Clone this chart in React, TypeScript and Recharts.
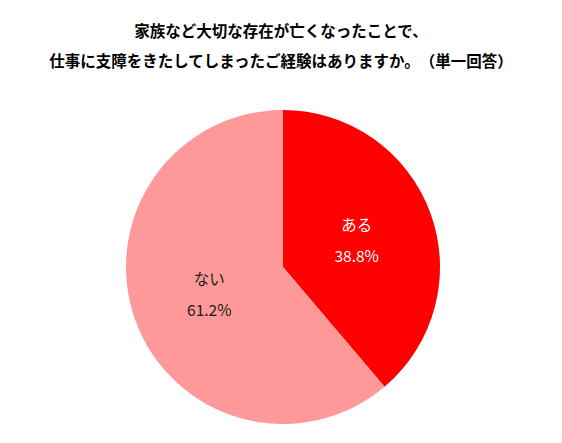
import { Cell, Pie, PieChart } from "recharts";

// Survey answer split.
const categories = ["ある", "ない"];
const shares = [38.8, 61.2];
const sliceColors = ["#FF0000", "#FF9999"];
const labelColors = ["#FFFFFF", "#1A1A1A"];

const titleLines = [
  "家族など大切な存在が亡くなったことで、",
  "仕事に支障をきたしてしまったご経験はありますか。（単一回答）",
];

const rows = categories.map((name, i) => ({ name, value: shares[i] }));

const RADIAN = Math.PI / 180;
const FONT = '"Noto Sans CJK JP", "Noto Sans", sans-serif';

// Two-line label (name + percent) placed half way out along the slice's mid angle.
function SliceLabel(props: any) {
  const { cx, cy, midAngle, outerRadius, index, name, value } = props;
  const r = outerRadius * 0.5;
  const x = cx + r * Math.cos(-midAngle * RADIAN);
  const y = cy + r * Math.sin(-midAngle * RADIAN);
  return (
    <g fill={labelColors[index]} fontFamily={FONT} fontSize={15.5}>
      <text x={x} y={y - 16} textAnchor="middle" dominantBaseline="central">
        {name}
      </text>
      <text x={x} y={y + 15} textAnchor="middle" dominantBaseline="central">
        {`${value.toFixed(1)}%`}
      </text>
    </g>
  );
}

export default function App() {
  return (
    <div
      style={{
        position: "absolute",
        left: 0,
        top: 0,
        width: 562,
        height: 443,
        background: "#fff",
      }}
    >
      {titleLines.map((line, i) => (
        <div
          key={i}
          style={
            {
              position: "absolute",
              left: 0,
              width: 562,
              top: i === 0 ? 20 : 50,
              textAlign: "center",
              fontFamily: FONT,
              fontWeight: 700,
              fontSize: 15.5,
              lineHeight: "20px",
              color: "#000",
              whiteSpace: "nowrap",
              textSpacingTrim: "space-all",
            } as any
          }
        >
          {line}
        </div>
      ))}
      <PieChart
        width={562}
        height={443}
        margin={{ top: 0, right: 0, bottom: 0, left: 0 }}
        style={{ position: "absolute", left: 0, top: 0 }}
      >
        <Pie
          data={rows}
          dataKey="value"
          nameKey="name"
          cx={283}
          cy={267}
          outerRadius={157}
          startAngle={90}
          endAngle={-270}
          stroke="none"
          labelLine={false}
          label={SliceLabel}
          isAnimationActive={false}
        >
          {rows.map((row, i) => (
            <Cell key={row.name} fill={sliceColors[i]} />
          ))}
        </Pie>
      </PieChart>
    </div>
  );
}
